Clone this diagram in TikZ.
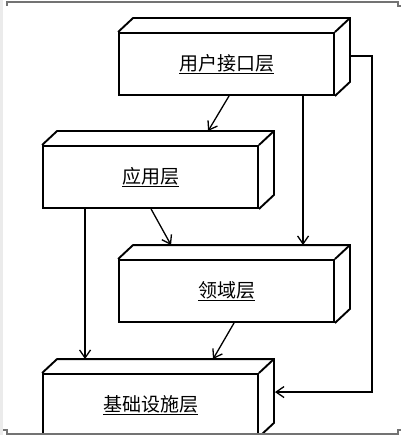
\documentclass[tikz,border=0pt]{standalone}
\usepackage{fontspec}
\newfontfamily\cjk{Noto Sans CJK SC}
\usetikzlibrary{arrows.meta,calc}
\begin{document}
\begin{tikzpicture}[x=1pt,y=-1pt,
 layer/.style={draw,line width=1.9pt,minimum width=215pt,minimum height=62pt,inner sep=0pt,font=\cjk\fontsize{19}{21}\selectfont},
 face/.style={line width=1.9pt,line join=miter},
 dep/.style={line width=1.3pt,-{Straight Barb[length=8pt,width=11pt,line width=1.3pt]}},
 frame/.style={draw=black!55,line width=1.2pt}]
\useasboundingbox (0,0) rectangle (401,435);
\fill[black!8] (0,0) rectangle (3,435);
\node[layer] (ui) at (226.5,64) {\underline{用户接口层}};
\node[layer] (app) at (150.5,177) {\underline{应用层}};
\node[layer] (dom) at (226.5,291) {\underline{领域层}};
\node[layer] (inf) at (150.5,405) {\underline{基础设施层}};
\foreach \n in {ui,app,dom,inf}{
 \draw[face] (\n.north west) -- ++(15,-14) -- ($(\n.north east)+(15,-14)$) -- ($(\n.south east)+(15,-14)$) -- (\n.south east);
 \draw[face] (\n.north east) -- ++(15,-14);
}
\draw[dep] ($(ui.south west)+(111,0)$) -- ($(app.north west)+(166,-14)$);
\draw[dep] ($(ui.south west)+(185,0)$) -- ($(dom.north west)+(185,-14)$);
\draw[dep] ($(ui.north east)+(15,24)$) -- ++(22,0) |- ($(inf.north east)+(16,19)$);
\draw[dep] ($(app.south west)+(109,0)$) -- ($(dom.north west)+(53,-14)$);
\draw[dep] ($(app.south west)+(43,0)$) -- ($(inf.north west)+(43,-14)$);
\draw[dep] ($(dom.south west)+(116,0)$) -- ($(inf.north west)+(171,-14)$);
\draw[frame] (7,6) -- (7,2) -- (398,2) -- (398,6) -- (401,6);
\draw[frame] (3,430) -- (7,430) -- (7,434) -- (398,434) -- (398,430) -- (401,430);
\end{tikzpicture}
\end{document}
